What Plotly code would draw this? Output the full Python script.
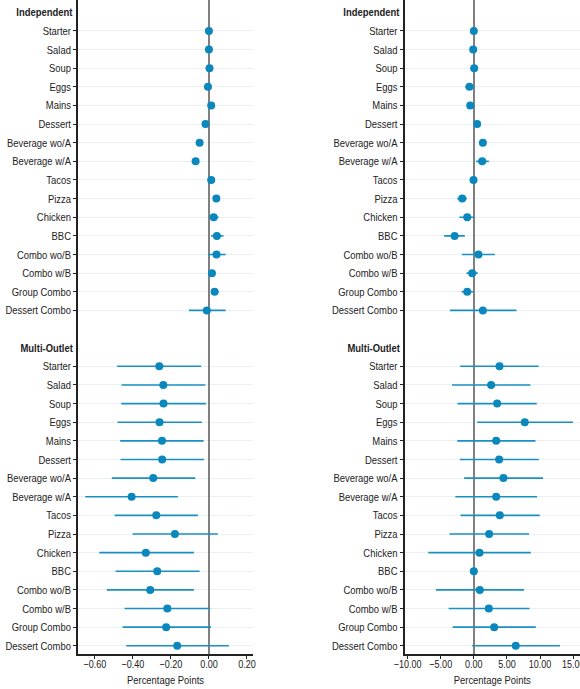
import plotly.graph_objects as go

# Item names (same list for both outlet groups)
items = ["Starter", "Salad", "Soup", "Eggs", "Mains", "Dessert", "Beverage wo/A",
         "Beverage w/A", "Tacos", "Pizza", "Chicken", "BBC", "Combo wo/B",
         "Combo w/B", "Group Combo", "Dessert Combo"]
groups = ["Independent", "Multi-Outlet"]

# Left panel: estimates and confidence bounds
left_ind_est = [0.000, 0.000, 0.003, -0.005, 0.012, -0.018, -0.049, -0.070,
                0.012, 0.039, 0.025, 0.042, 0.040, 0.016, 0.030, -0.011]
left_ind_lo = [-0.004, -0.004, -0.002, -0.012, 0.006, -0.024, -0.055, -0.076,
               0.006, 0.033, 0.000, 0.011, -0.005, 0.010, 0.016, -0.105]
left_ind_hi = [0.004, 0.004, 0.008, 0.002, 0.018, -0.012, -0.043, -0.064,
               0.018, 0.045, 0.051, 0.077, 0.088, 0.022, 0.051, 0.088]

left_mo_est = [-0.261, -0.240, -0.239, -0.260, -0.247, -0.246, -0.293, -0.407,
               -0.277, -0.179, -0.332, -0.272, -0.309, -0.219, -0.225, -0.167]
left_mo_lo = [-0.483, -0.460, -0.461, -0.481, -0.467, -0.465, -0.511, -0.651,
              -0.496, -0.402, -0.577, -0.491, -0.537, -0.444, -0.454, -0.435]
left_mo_hi = [-0.041, -0.019, -0.016, -0.037, -0.028, -0.026, -0.072, -0.163,
              -0.058, 0.047, -0.079, -0.049, -0.079, 0.007, 0.011, 0.105]

# Right panel: estimates and confidence bounds
right_ind_est = [0.00, -0.10, 0.05, -0.65, -0.55, 0.50, 1.36, 1.26,
                 -0.05, -1.76, -1.00, -2.90, 0.70, -0.25, -1.00, 1.36]
right_ind_lo = [-0.30, -0.40, -0.30, -1.30, -0.90, 0.15, 1.00, 0.35,
                -0.40, -2.50, -2.20, -4.47, -1.80, -1.10, -1.86, -3.60]
right_ind_hi = [0.30, 0.20, 0.40, -0.05, -0.20, 0.85, 1.72, 2.26,
                0.30, -1.05, 0.10, -1.36, 3.17, 0.60, -0.10, 6.43]

right_mo_est = [3.87, 2.61, 3.52, 7.69, 3.37, 3.82, 4.47, 3.37,
                3.92, 2.31, 0.85, 0.00, 0.90, 2.26, 3.07, 6.33]
right_mo_lo = [-2.06, -3.30, -2.46, 0.50, -2.50, -2.10, -1.46, -2.80,
               -2.00, -3.67, -6.88, 0.00, -5.73, -3.80, -3.20, -0.25]
right_mo_hi = [9.80, 8.54, 9.50, 14.97, 9.30, 9.80, 10.45, 9.55,
               9.95, 8.34, 8.60, 0.00, 7.59, 8.40, 9.35, 13.00]

left_ticks = [-0.6, -0.4, -0.2, 0.0, 0.2]
right_ticks = [-10, -5, 0, 5, 10, 15]

DOT = "#0a88bd"
LINE = "#1a8fc2"
INK = "#222222"
FONT = "Liberation Sans, Arial, sans-serif"
LABEL_SIZE = 11.5
TICK_SIZE = 11

# Row positions: header row, 16 items, one blank row, header row, 16 items
n = len(items)
header_pos = [0, n + 2]
ind_pos = list(range(1, n + 1))
mo_pos = list(range(n + 3, 2 * n + 3))

fig = go.Figure()


def add_series(est, lo, hi, pos, xa, ya):
    plus = [h - e for e, h in zip(est, hi)]
    minus = [e - l for e, l in zip(est, lo)]
    fig.add_trace(go.Scatter(
        x=est, y=pos, mode="markers", xaxis=xa, yaxis=ya,
        marker=dict(color=DOT, size=8, line=dict(width=0)),
        error_x=dict(type="data", symmetric=False, array=plus, arrayminus=minus,
                     color=LINE, thickness=1.6, width=0),
        showlegend=False, hoverinfo="x+y",
    ))


add_series(left_ind_est, left_ind_lo, left_ind_hi, ind_pos, "x", "y")
add_series(left_mo_est, left_mo_lo, left_mo_hi, mo_pos, "x", "y")
add_series(right_ind_est, right_ind_lo, right_ind_hi, ind_pos, "x2", "y2")
add_series(right_mo_est, right_mo_lo, right_mo_hi, mo_pos, "x2", "y2")

yrange = [mo_pos[-1] + 0.44, header_pos[0] - 0.66]
tickvals = ind_pos + mo_pos
ticktext = items + items

yaxis_common = dict(
    range=yrange, tickmode="array", tickvals=tickvals, ticktext=ticktext,
    showgrid=True, gridcolor="#e9f1f5", gridwidth=1,
    showline=True, linecolor=INK, linewidth=1.5,
    ticks="outside", ticklen=3, tickcolor=INK, tickwidth=1,
    zeroline=False, automargin=False,
    tickfont=dict(family=FONT, size=LABEL_SIZE, color=INK),
)

xaxis_common = dict(
    showgrid=False, showline=True, linecolor=INK, linewidth=1.5,
    ticks="outside", ticklen=3, tickcolor=INK, tickwidth=1, tickangle=0,
    tickformat=".2f", zeroline=True, zerolinecolor="#808080", zerolinewidth=2,
    automargin=False, ticklabeloverflow="allow",
    tickfont=dict(family=FONT, size=TICK_SIZE, color=INK),
    title=dict(text="Percentage Points", font=dict(family=FONT, size=LABEL_SIZE, color=INK),
               standoff=2),
)

W, H = 580, 689
left_dom = [78 / W, 253 / W]
right_dom = [404.5 / W, 1.0]

fig.update_layout(
    width=W, height=H,
    margin=dict(l=0, r=0, t=0, b=35),
    paper_bgcolor="white", plot_bgcolor="white",
    font=dict(family=FONT, size=LABEL_SIZE, color=INK),
    xaxis=dict(domain=left_dom, range=[-0.689, 0.232], tickvals=left_ticks,
               anchor="y", **xaxis_common),
    yaxis=dict(domain=[0, 1], anchor="x", **yaxis_common),
    xaxis2=dict(domain=right_dom, range=[-10.47, 16.03], tickvals=right_ticks,
                anchor="y2", **xaxis_common),
    yaxis2=dict(domain=[0, 1], anchor="x2", **yaxis_common),
)

# Bold group headers placed in the tick-label column
for xa, dom in (("x", left_dom), ("x2", right_dom)):
    for g, p in zip(groups, header_pos):
        fig.add_annotation(
            x=dom[0] - 2.8 / W, xref="paper", y=p, yref="y" if xa == "x" else "y2",
            text="<b>" + g + "</b>", showarrow=False, xanchor="right", yanchor="middle",
            font=dict(family=FONT, size=LABEL_SIZE, color=INK),
        )

# Narrow the sans text horizontally (condensed face), keeping each label's anchor;
# x tick labels sit a little closer to their axis line
narrow_js = """
var gd = document.getElementById('{plot_id}');
function narrowText() {
  var k = 0.82;
  gd.querySelectorAll('.ytick text, .y2tick text, .xtick text, .x2tick text, .g-xtitle text, .g-x2title text').forEach(function (t) {
    if (t.getAttribute('data-nw')) return;
    var w = t.getComputedTextLength();
    t.setAttribute('textLength', (w * k).toFixed(2));
    t.setAttribute('lengthAdjust', 'spacingAndGlyphs');
    if (t.closest('.xtick, .x2tick')) {
      t.setAttribute('transform', 'translate(0,-4) ' + (t.getAttribute('transform') || ''));
    }
    t.setAttribute('data-nw', '1');
  });
  gd.querySelectorAll('.annotation-text').forEach(function (t) {
    if (t.getAttribute('data-nw')) return;
    var w = t.getComputedTextLength();
    var x = parseFloat(t.getAttribute('x') || '0');
    t.setAttribute('textLength', (w * k).toFixed(2));
    t.setAttribute('lengthAdjust', 'spacingAndGlyphs');
    t.setAttribute('x', (x + w / 2).toFixed(2));
    t.setAttribute('text-anchor', 'end');
    t.querySelectorAll('tspan').forEach(function (s) { if (s.getAttribute('x')) s.setAttribute('x', (x + w / 2).toFixed(2)); });
    t.setAttribute('data-nw', '1');
  });
}
narrowText();
gd.on('plotly_afterplot', narrowText);
"""

fig.write_html("out.html", post_script=narrow_js)
